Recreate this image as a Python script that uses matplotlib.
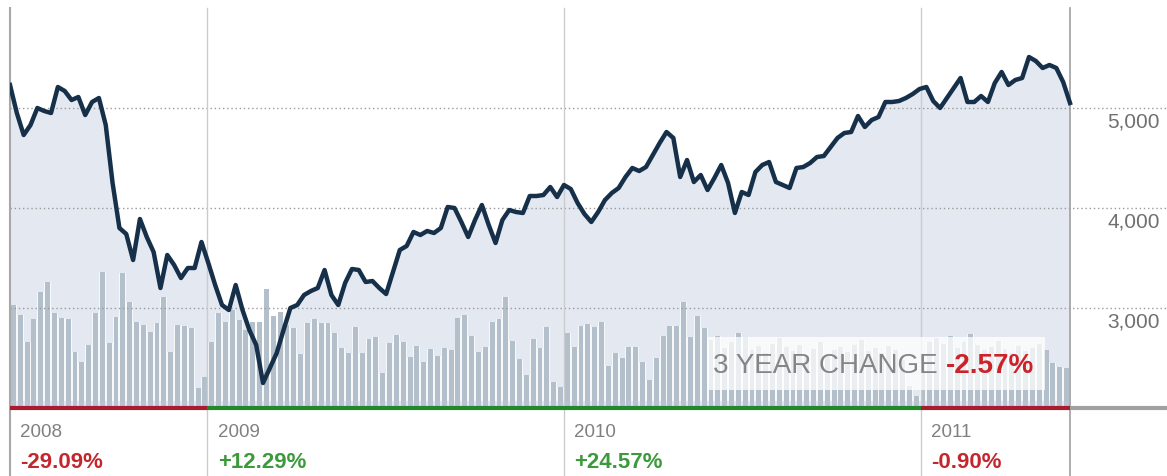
import matplotlib
matplotlib.use('Agg')
import matplotlib.pyplot as plt
from matplotlib.patches import Rectangle
import pandas as pd

plt.rcParams['font.family'] = ['Liberation Sans', 'DejaVu Sans']

# weekly close, 13 Jun 2008 .. 3 Jun 2011
close = [5230, 4950, 4730, 4830, 5000, 4970, 4950, 5210, 5170, 5080,
         5110, 4930, 5060, 5100, 4830, 4250, 3800, 3740, 3480, 3890,
         3710, 3560, 3200, 3530, 3430, 3300, 3400, 3400, 3660, 3450,
         3230, 3030, 2980, 3230, 2980, 2780, 2630, 2250, 2400, 2550,
         2780, 3000, 3030, 3130, 3170, 3200, 3380, 3130, 3030, 3250,
         3390, 3380, 3260, 3270, 3200, 3140, 3360, 3580, 3620, 3760,
         3730, 3770, 3750, 3800, 4010, 4000, 3860, 3710, 3880, 4030,
         3830, 3650, 3880, 3980, 3960, 3950, 4120, 4120, 4130, 4210,
         4110, 4230, 4190, 4050, 3940, 3860, 3960, 4080, 4150, 4200,
         4310, 4400, 4370, 4410, 4530, 4650, 4760, 4700, 4310, 4480,
         4260, 4330, 4180, 4300, 4430, 4250, 3950, 4160, 4130, 4360,
         4430, 4460, 4260, 4230, 4200, 4400, 4410, 4450, 4510, 4520,
         4610, 4700, 4750, 4760, 4920, 4810, 4880, 4910, 5060, 5060,
         5070, 5100, 5140, 5190, 5210, 5070, 5000, 5100, 5200, 5300,
         5060, 5060, 5120, 5060, 5250, 5360, 5230, 5280, 5300, 5510,
         5470, 5400, 5430, 5400, 5260, 5050]

# weekly volume (relative units)
volume = [103, 93, 66, 89, 116, 126, 95, 90, 89, 56,
          46, 63, 95, 136, 65, 91, 135, 106, 86, 83,
          76, 85, 111, 56, 83, 82, 80, 20, 31, 66,
          95, 86, 98, 88, 78, 86, 86, 119, 92, 96,
          83, 80, 54, 85, 89, 85, 85, 75, 60, 55,
          81, 55, 69, 71, 35, 65, 73, 66, 51, 62,
          46, 59, 52, 60, 58, 90, 93, 72, 56, 61,
          86, 89, 111, 67, 49, 33, 69, 60, 81, 26,
          21, 75, 61, 82, 84, 81, 86, 42, 55, 50,
          61, 61, 46, 28, 50, 72, 82, 82, 106, 71,
          92, 80, 68, 72, 60, 66, 75, 71, 58, 62,
          55, 64, 70, 61, 57, 63, 52, 59, 66, 54,
          58, 61, 56, 63, 68, 57, 60, 55, 62, 58,
          48, 22, 12, 45, 66, 70, 64, 72, 60, 66,
          74, 63, 58, 61, 67, 59, 55, 62, 57, 60,
          64, 58, 45, 41, 40]

years = ['2008', '2009', '2010', '2011']
year_change = [-29.09, 12.29, 24.57, -0.90]
total_change = -2.57
price_ticks = [3000, 4000, 5000]

dates = pd.date_range('2008-06-13', periods=len(close), freq='7D')

RED = '#c4262e'
GREEN = '#3c9a3c'
LINE_RED = '#a81d2e'
LINE_GREEN = '#22892a'

W, H = 1167, 476
fig = plt.figure(figsize=(W / 100, H / 100), dpi=100)
ax = fig.add_axes([10 / W, 68 / H, 1157 / W, 400 / H])
axv = ax.twinx()
axl = ax.twinx()

span = (dates[-1] - dates[0]).days
x0 = dates[0]
x1 = dates[0] + pd.Timedelta(days=span * 1157 / 1060)
for a in (ax, axv, axl):
    a.set_xlim(x0, x1)
    a.set_axis_off()
ax.set_ylim(2000, 6000)
axl.set_ylim(2000, 6000)
axv.set_ylim(0, 400)

# area under the price
ax.fill_between(dates, close, 2000, color='#e4e9f1', lw=0)

# volume bars
day = pd.Timedelta(days=1)
axv.bar(dates[:-1], volume, width=7, align='edge', color='white', alpha=0.7, lw=0)
axv.bar(dates[:-1] + day, volume, width=5, align='edge', color='#b3bfca', lw=0)
axv.fill_between([dates[0], dates[-1]], 0, 7, color='#c9c5e6', alpha=0.35, lw=0)

# grid
for v in price_ticks:
    axl.axhline(v, color='#9a9a9a', lw=1, ls=(0, (1, 2)), zorder=1)
    axl.annotate(f'{v:,}', xy=(0.994, v), xycoords=axl.get_yaxis_transform(),
                 xytext=(0, -14.4), textcoords='offset points', ha='right',
                 va='baseline', fontsize=15, color='#707070')

xt = axl.get_xaxis_transform()
axl.plot([dates[0], dates[0]], [-0.17, 1], transform=xt, color='#a8a8a8', lw=1.5, clip_on=False, zorder=2)
axl.plot([dates[-1], dates[-1]], [-0.17, 1], transform=xt, color='#a0a0a0', lw=1.2, clip_on=False, zorder=2)

for yr, chg in zip(years, year_change):
    s = max(dates[0], pd.Timestamp(f'{yr}-01-01'))
    e = min(dates[-1], pd.Timestamp(f'{int(yr) + 1}-01-01'))
    if s > dates[0]:
        axl.plot([s, s], [-0.17, 1], transform=xt, color='#cccccc', lw=1, clip_on=False, zorder=2)
    axl.plot([s, e], [2000, 2000], color=LINE_RED if chg < 0 else LINE_GREEN,
             lw=3, solid_capstyle='butt', clip_on=False, zorder=6)
    axl.annotate(yr, xy=(s, 2000), xytext=(7.5, -21), textcoords='offset points',
                 ha='left', va='baseline', fontsize=13.5, color='#808080')
    axl.annotate(f'{chg:+.2f}%', xy=(s, 2000), xytext=(7.5, -43), textcoords='offset points',
                 ha='left', va='baseline', fontsize=16, weight='bold',
                 color=RED if chg < 0 else GREEN)
axl.plot([dates[-1], x1], [2000, 2000], color='#a0a0a0', lw=3, solid_capstyle='butt',
         clip_on=False, zorder=6)

# price line
axl.plot(dates, close, color='#16304a', lw=3.2, solid_joinstyle='round', zorder=3)

# 3 year change box
axl.add_patch(Rectangle((697 / 1157, 18 / 400), 338 / 1157, 53 / 400,
                        transform=axl.transAxes, fc='white', alpha=0.75, lw=0, zorder=4))
t1 = axl.text(703 / 1157, 35 / 400, '3 YEAR CHANGE ', transform=axl.transAxes,
              fontsize=20, color='#858585', ha='left', va='baseline', zorder=5)
axl.annotate(f'{total_change:+.2f}%', xy=(1, 0), xycoords=t1, ha='left', va='bottom',
             fontsize=20, weight='bold', color='#cc2229', zorder=5)

fig.savefig('out.png', dpi=100)
